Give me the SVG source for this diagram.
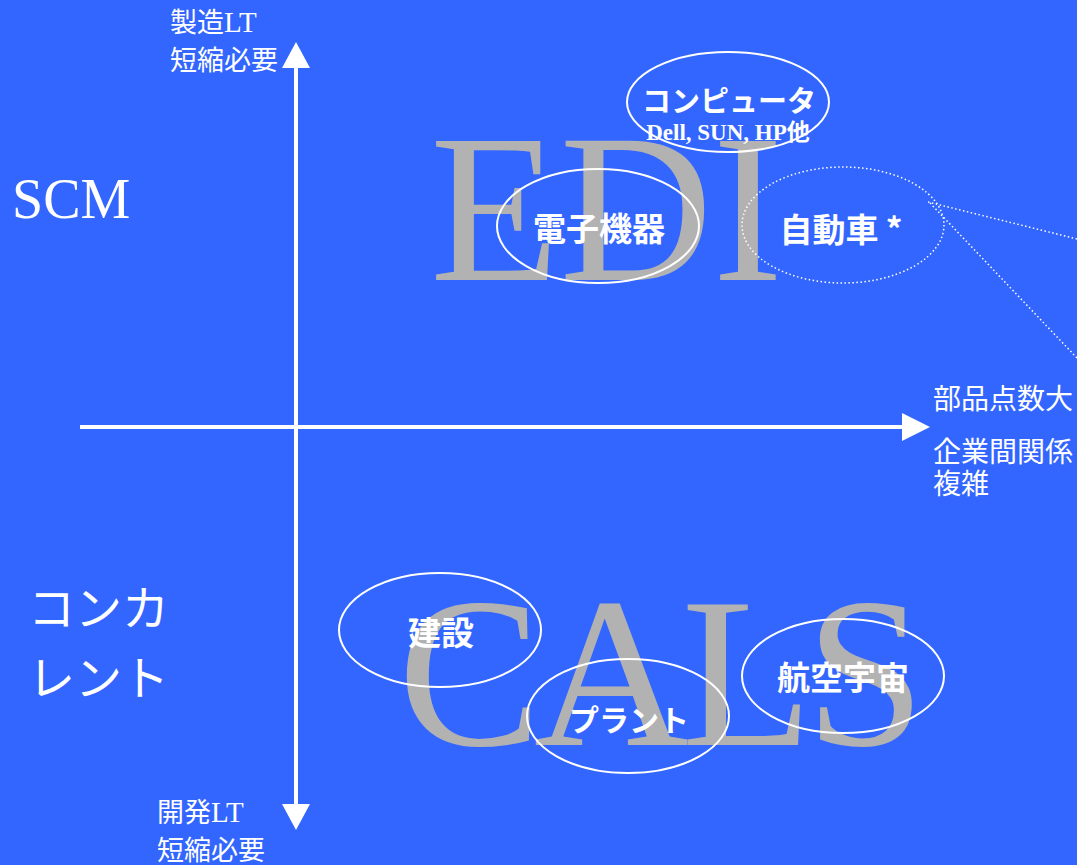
<svg xmlns="http://www.w3.org/2000/svg" width="1077" height="865" viewBox="0 0 1077 865">
<style>
.big{font-family:"Liberation Serif","Noto Serif CJK JP",serif;fill:#B2B2B2}
.ax{font-family:"Liberation Serif","Noto Sans CJK JP",serif;fill:#fff;font-size:27px}
.jp{font-family:"Noto Sans CJK JP",sans-serif;fill:#fff}
.lbl{font-family:"Noto Sans CJK JP",sans-serif;fill:#fff;font-weight:bold;font-size:33px;text-anchor:middle}
.ell{fill:none;stroke:#fff;stroke-width:2}
.dot{fill:none;stroke:#fff;stroke-width:1.5;stroke-dasharray:1.5 2.5}
</style>
<rect width="1077" height="865" fill="#3366FF"/>
<g id="watermarks">
<text class="big" x="430" y="280" font-size="212">EDI</text>
<text class="big" x="398" y="745" font-size="215" textLength="527" lengthAdjust="spacing">CALS</text>
</g>
<g id="axes">
<line x1="296" y1="62" x2="296" y2="808" stroke="#fff" stroke-width="4"/>
<polygon points="296,42 282,68 310,68" fill="#fff"/>
<polygon points="296,830 282,804 310,804" fill="#fff"/>
<line x1="80" y1="427" x2="906" y2="427" stroke="#fff" stroke-width="4"/>
<polygon points="930,427 902,413 902,441" fill="#fff"/>
</g>
<g id="axis-labels">
<text class="ax" x="170" y="32">製造<tspan style="font-size:29px">LT</tspan></text>
<text class="ax" x="170" y="70">短縮必要</text>
<text class="ax" x="157" y="822">開発<tspan style="font-size:29px">LT</tspan></text>
<text class="ax" x="157" y="860">短縮必要</text>
<text class="jp" x="933" y="409" font-size="28">部品点数大</text>
<text class="jp" x="933" y="462" font-size="28">企業間関係</text>
<text class="jp" x="933" y="494" font-size="28">複雑</text>
<text x="12" y="218" font-family="Liberation Serif,serif" font-size="56" fill="#fff">SCM</text>
<text class="jp" x="28" y="625" font-size="47">コンカ</text>
<text class="jp" x="28" y="695" font-size="47">レント</text>
</g>
<g id="connectors">
<line class="dot" x1="928" y1="202" x2="1077" y2="239"/>
<line class="dot" x1="930" y1="203" x2="1077" y2="358"/>
</g>
<g id="computer">
<ellipse class="ell" cx="728" cy="102" rx="101" ry="50"/>
<text class="lbl" x="729" y="112" style="font-size:29px">コンピュータ</text>
<text x="728" y="140" text-anchor="middle" font-family="Liberation Serif,Noto Sans CJK JP,serif" font-weight="bold" font-size="23" fill="#fff">Dell, SUN, HP他</text>
</g>
<g id="electronics">
<ellipse class="ell" cx="598" cy="226" rx="101" ry="57"/>
<text class="lbl" x="599" y="241">電子機器</text>
</g>
<g id="automobile">
<ellipse class="dot" cx="843" cy="225" rx="101" ry="58"/>
<text class="lbl" x="841" y="242">自動車 *</text>
</g>
<g id="construction">
<ellipse class="ell" cx="440" cy="630" rx="101" ry="57"/>
<text class="lbl" x="441" y="645">建設</text>
</g>
<g id="plant">
<ellipse class="ell" cx="628" cy="716" rx="101" ry="57"/>
<text class="lbl" x="629" y="731" style="font-size:30px">プラント</text>
</g>
<g id="aerospace">
<ellipse class="ell" cx="843" cy="676" rx="101" ry="57"/>
<text class="lbl" x="843" y="690">航空宇宙</text>
</g>
</svg>
